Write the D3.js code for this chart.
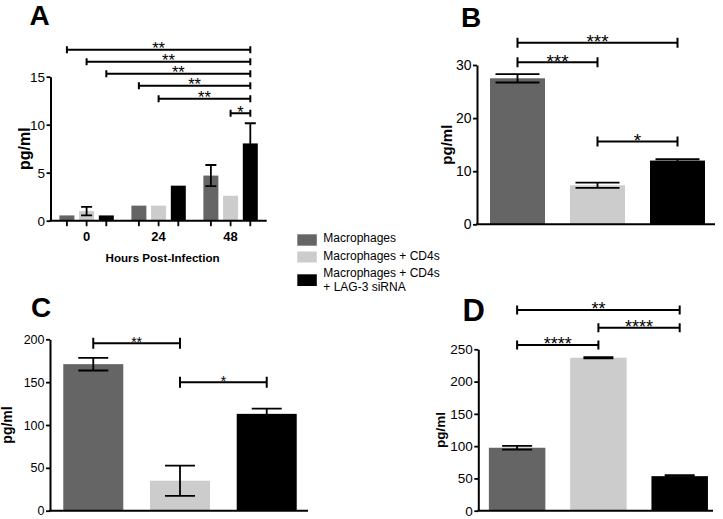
<!DOCTYPE html>
<html><head><meta charset="utf-8">
<script src="https://cdn.jsdelivr.net/npm/d3@7"></script>
<style>
body{margin:0;background:#fff}
svg{display:block;font-family:"Liberation Sans",Arial,Helvetica,sans-serif}
</style>
</head><body>
<svg id="chart" width="723" height="519"></svg>
<script>
// ---------- DATA ----------
const seriesNames = ["Macrophages", "Macrophages + CD4s", "Macrophages + CD4s|+ LAG-3 siRNA"];
const seriesColors = ["#656565", "#cccccc", "#000000"];

// Panel A (grouped by hours post-infection)
const aGroups = ["0", "24", "48"];
const aMean = [[0.55, 1.0, 0.55], [1.57, 1.57, 3.65], [4.7, 2.6, 8.05]];
const aErr  = [[0, 0.45, 0], [0, 0, 0], [1.1, 0, 2.1]];
const aTicks = [0, 5, 10, 15];
const aBrackets = [
  {from: 0, to: 8, level: 17.8, label: "**"},
  {from: 1, to: 8, level: 16.55, label: "**"},
  {from: 2, to: 8, level: 15.3, label: "**"},
  {from: 3, to: 8, level: 14.05, label: "**"},
  {from: 4, to: 8, level: 12.7, label: "**"},
  {from: 7, to: 8, level: 11.2, label: "*"}
];

// Panel B
const bMean = [27.5, 7.35, 12.0];
const bErr  = [0.8, 0.5, 0.25];
const bTicks = [0, 10, 20, 30];
const bBrackets = [
  {from: 0, to: 2, level: 34.2, label: "***"},
  {from: 0, to: 1, level: 30.5, label: "***"},
  {from: 1, to: 2, level: 15.6, label: "*"}
];

// Panel C
const cMean = [171, 35, 113];
const cErr  = [7.4, 17.7, 6];
const cTicks = [0, 50, 100, 150, 200];
const cBrackets = [
  {from: 0, to: 1, level: 195.3, label: "**"},
  {from: 1, to: 2, level: 149.8, label: "*"}
];

// Panel D
const dMean = [97.5, 237, 53.5];
const dErr  = [3, 1, 1.5];
const dTicks = [0, 50, 100, 150, 200, 250];
const dBrackets = [
  {from: 0, to: 2, level: 310.9, label: "**"},
  {from: 1, to: 2, level: 283.5, label: "****"},
  {from: 0, to: 1, level: 256.7, label: "****"}
];

// ---------- DRAWING ----------
const svg = d3.select("#chart");
const FONT = '"Liberation Sans",Arial,Helvetica,sans-serif';

function panel(cfg) {
  const g = svg.append("g");
  const y = d3.scaleLinear().domain([0, cfg.max]).range([cfg.bottom, cfg.top]);

  const bars = cfg.bars(y);

  g.selectAll("rect.bar").data(bars).join("rect")
    .attr("x", d => d.x).attr("width", d => d.w)
    .attr("y", d => y(d.v)).attr("height", d => y(0) - y(d.v))
    .attr("fill", d => d.color);

  // error bars
  const eb = bars.filter(d => d.e > 0);
  const cw = cfg.cap;
  g.selectAll("path.err").data(eb).join("path")
    .attr("d", d => {
      const cx = d.x + d.w / 2, y1 = y(d.v + d.e), y2 = y(d.v - d.e);
      return `M${cx},${y1}V${y2}M${cx - cw / 2},${y1}H${cx + cw / 2}M${cx - cw / 2},${y2}H${cx + cw / 2}`;
    })
    .attr("stroke", "#000").attr("stroke-width", 1.8).attr("fill", "none");

  // y axis
  const ax = g.append("g").attr("transform", `translate(${cfg.left},0)`)
    .call(d3.axisLeft(y).tickValues(cfg.ticks).tickSize(4).tickSizeOuter(0).tickPadding(1.5)
      .tickFormat(d3.format("d")));
  ax.select(".domain").attr("stroke-width", 2);
  ax.selectAll(".tick line").attr("stroke-width", 1.8);
  ax.selectAll(".tick text").attr("font-size", cfg.tickFont).attr("font-family", FONT).attr("fill", "#000");

  // x axis line
  g.append("line").attr("x1", cfg.left - 1).attr("x2", cfg.right)
    .attr("y1", y(0)).attr("y2", y(0)).attr("stroke", "#000").attr("stroke-width", 2);

  // y label
  g.append("text").attr("transform", `translate(${cfg.ylabX},${(y(0) + y(cfg.max)) / 2}) rotate(-90)`)
    .attr("text-anchor", "middle").attr("font-weight", "bold").attr("font-size", cfg.ylabFont)
    .text("pg/ml");

  // significance brackets
  const centers = bars.map(d => d.x + d.w / 2);
  const bg = g.selectAll("g.br").data(cfg.brackets).join("g");
  bg.append("path").attr("d", d => {
      const x1 = centers[d.from], x2 = centers[d.to], yy = y(d.level), h = cfg.brH / 2;
      return `M${x1},${yy}H${x2}M${x1},${yy - h}V${yy + h}M${x2},${yy - h}V${yy + h}`;
    })
    .attr("stroke", "#000").attr("stroke-width", 2).attr("fill", "none");
  bg.append("text").attr("x", d => (centers[d.from] + centers[d.to]) / 2)
    .attr("y", d => y(d.level) + 0.43 * cfg.starFont - 2.6).attr("text-anchor", "middle")
    .attr("font-size", cfg.starFont).text(d => d.label);

  // panel letter
  g.append("text").attr("x", cfg.letter[0]).attr("y", cfg.letter[1])
    .attr("font-weight", "bold").attr("font-size", cfg.letterFont).text(cfg.name);
  return {g, y, bars};
}

function simpleBars(means, errs, range, pi, po) {
  const x = d3.scaleBand().domain(d3.range(means.length)).range(range).paddingInner(pi).paddingOuter(po);
  return () => means.map((v, i) => ({x: x(i), w: x.bandwidth(), v, e: errs[i], color: seriesColors[i]}));
}

// Panel A
const xA = d3.scaleBand().domain(aGroups).range([50.5, 266.7]).paddingInner(0.2444).paddingOuter(0.1237);
const xAin = d3.scaleBand().domain(d3.range(3)).range([0, xA.bandwidth()]).paddingInner(0.24).paddingOuter(0);
const A = panel({
  name: "A", letter: [29.5, 25], letterFont: 28,
  max: 15, bottom: 220.7, top: 76.7, left: 50.5, right: 266.7,
  ticks: aTicks, tickFont: 13.5, ylabX: 29.6, ylabFont: 16,
  cap: 11, brH: 7, starFont: 16.5, brackets: aBrackets,
  bars: () => aGroups.flatMap((gname, gi) => aMean[gi].map((v, si) => ({
    x: xA(gname) + xAin(si), w: xAin.bandwidth(), v, e: aErr[gi][si], color: seriesColors[si]})))
});
// A x ticks + labels
A.g.selectAll("line.xt").data(A.bars).join("line")
  .attr("x1", d => d.x + d.w / 2).attr("x2", d => d.x + d.w / 2)
  .attr("y1", A.y(0)).attr("y2", A.y(0) + 5.5).attr("stroke", "#000").attr("stroke-width", 1.8);
A.g.selectAll("text.xl").data(aGroups).join("text")
  .attr("x", d => xA(d) + xA.bandwidth() / 2).attr("y", 240.7)
  .attr("text-anchor", "middle").attr("font-weight", "bold").attr("font-size", 13).text(d => d);
A.g.append("text").attr("x", (50.5 + 266.7) / 2 + 4).attr("y", 262)
  .attr("text-anchor", "middle").attr("font-weight", "bold").attr("font-size", 11.6)
  .text("Hours Post-Infection");

// Panel B
panel({
  name: "B", letter: [461, 27], letterFont: 28,
  max: 30, bottom: 224.3, top: 65, left: 477, right: 715,
  ticks: bTicks, tickFont: 14, ylabX: 452, ylabFont: 15,
  cap: 44, brH: 10, starFont: 19, brackets: bBrackets,
  bars: simpleBars(bMean, bErr, [477, 718], 0.3125, 0.1625)
});

// Panel C
panel({
  name: "C", letter: [31, 316.5], letterFont: 28,
  max: 200, bottom: 510.7, top: 339.3, left: 50, right: 308,
  ticks: cTicks, tickFont: 12.5, ylabX: 12, ylabFont: 14,
  cap: 30, brH: 11, starFont: 14, brackets: cBrackets,
  bars: simpleBars(cMean, cErr, [50, 310], 0.308, 0.153)
});

// Panel D
panel({
  name: "D", letter: [462.5, 321], letterFont: 31,
  max: 250, bottom: 510.7, top: 349.3, left: 478.3, right: 713,
  ticks: dTicks, tickFont: 13.5, ylabX: 445, ylabFont: 13.5,
  cap: 30, brH: 9, starFont: 18, brackets: dBrackets,
  bars: simpleBars(dMean, dErr, [478.3, 718.5], 0.305, 0.13)
});

// Legend
const leg = svg.append("g").attr("font-size", 12);
const legRows = [{sy: 234.3, sh: 11.4, ty: [241.8]}, {sy: 251.5, sh: 11, ty: [260.2]}, {sy: 274.3, sh: 11.7, ty: [276.6, 290.6]}];
seriesNames.forEach((name, i) => {
  const r = legRows[i];
  leg.append("rect").attr("x", 297.3).attr("y", r.sy).attr("width", 19.5).attr("height", r.sh).attr("fill", seriesColors[i]);
  name.split("|").forEach((line, j) => {
    leg.append("text").attr("x", 323.3).attr("y", r.ty[j]).text(line);
  });
});
</script>
</body></html>
